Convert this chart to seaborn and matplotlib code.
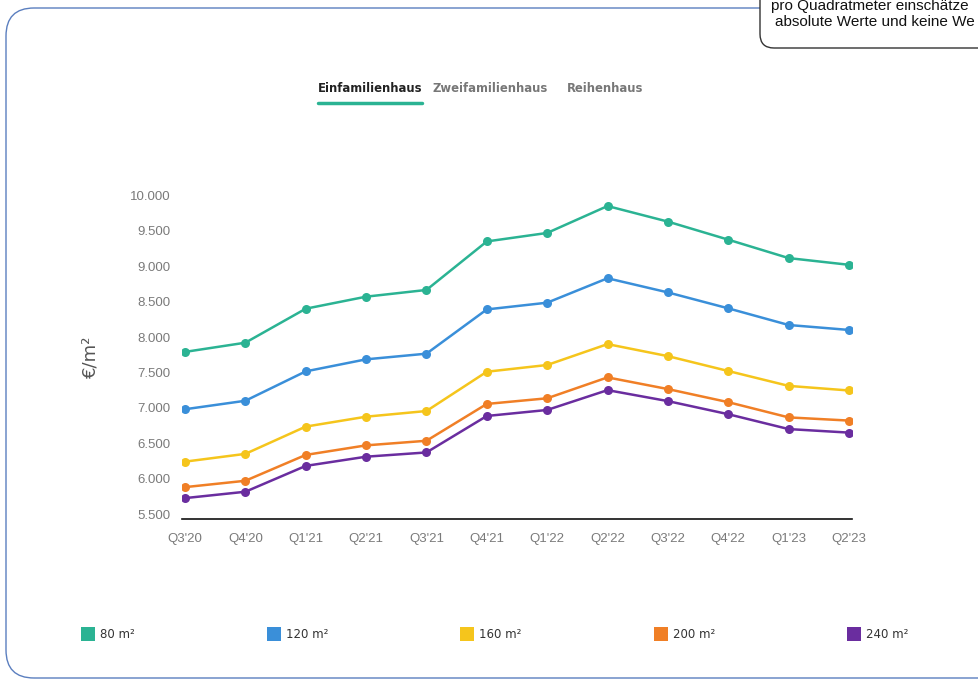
import pandas as pd
import seaborn as sns
import matplotlib.pyplot as plt
from matplotlib.lines import Line2D
from matplotlib.patches import FancyBboxPatch

quartale = ["Q3'20", "Q4'20", "Q1'21", "Q2'21", "Q3'21", "Q4'21",
            "Q1'22", "Q2'22", "Q3'22", "Q4'22", "Q1'23", "Q2'23"]
groessen = ["80 m²", "120 m²", "160 m²", "200 m²", "240 m²"]

preis_80 = [7790, 7920, 8400, 8570, 8665, 9350, 9470, 9850, 9630, 9375, 9115, 9020]
preis_120 = [6980, 7100, 7515, 7685, 7765, 8390, 8485, 8830, 8630, 8405, 8170, 8100]
preis_160 = [6240, 6350, 6735, 6875, 6955, 7510, 7605, 7900, 7730, 7520, 7310, 7245]
preis_200 = [5880, 5970, 6335, 6470, 6535, 7055, 7135, 7430, 7265, 7080, 6865, 6820]
preis_240 = [5725, 5815, 6180, 6310, 6370, 6885, 6970, 7250, 7095, 6910, 6700, 6650]

farben = ["#2bb393", "#3a8fd9", "#f5c51c", "#f07f26", "#6a2d9f"]

y_ticks = [5500, 6000, 6500, 7000, 7500, 8000, 8500, 9000, 9500, 10000]

df = pd.DataFrame({
    "quartal": quartale * 5,
    "groesse": sum([[g] * len(quartale) for g in groessen], []),
    "preis": preis_80 + preis_120 + preis_160 + preis_200 + preis_240,
})

sns.set_style("white")
plt.rcParams["font.family"] = ["DejaVu Sans"]

fig = plt.figure(figsize=(9.79, 6.83), dpi=100)
ax = fig.add_axes([182 / 979, 1 - 519 / 683, 670 / 979, 325 / 683])

sns.lineplot(data=df, x="quartal", y="preis", hue="groesse", hue_order=groessen,
             palette=farben, marker="o", markersize=6.5, markeredgewidth=0,
             linewidth=1.8, legend=False, ax=ax, sort=False)

ax.set_xlim(-0.05, 11.05)
ax.set_ylim(5430, 10020)
ax.set_yticks(y_ticks)
ax.set_yticklabels([f"{v:,}".replace(",", ".") for v in y_ticks],
                   fontfamily="Liberation Sans", fontsize=9.5, color="#7a7a7a")
ax.set_xticks(range(len(quartale)))
ax.set_xticklabels(quartale, fontfamily="Liberation Sans", fontsize=9.5, color="#7a7a7a")
ax.tick_params(axis="both", length=0)
ax.tick_params(axis="y", pad=8)
ax.tick_params(axis="x", pad=10)
ax.set_xlabel("")
ax.set_ylabel("€/m²", fontsize=13, color="#555555", labelpad=22)
for s in ["top", "right", "left"]:
    ax.spines[s].set_visible(False)
ax.spines["bottom"].set_color("#111111")
ax.spines["bottom"].set_linewidth(1.2)

# Reiter oben
fig.text(318 / 979, 1 - 88 / 683, "Einfamilienhaus", fontsize=8.4, fontweight="bold",
         color="#222222", va="center")
fig.text(433 / 979, 1 - 88 / 683, "Zweifamilienhaus", fontsize=8.4, fontweight="bold",
         color="#777777", va="center")
fig.text(567 / 979, 1 - 88 / 683, "Reihenhaus", fontsize=8.4, fontweight="bold",
         color="#777777", va="center")
fig.add_artist(Line2D([318 / 979, 422 / 979], [1 - 103 / 683, 1 - 103 / 683],
                      color="#2bb393", linewidth=2.5))

# Legende unten
handles = [Line2D([], [], marker="s", linestyle="none", markersize=10,
                  markerfacecolor=c, markeredgewidth=0) for c in farben]
fig.legend(handles, groessen, loc="center left", bbox_to_anchor=(82 / 979, 1 - 635 / 683),
           ncol=5, frameon=False, borderpad=0, borderaxespad=0, handlelength=1.0,
           handletextpad=0.5, columnspacing=11.3, prop={"size": 8.5},
           labelcolor="#333333")

# Karte und Hinweisbox
fig.add_artist(FancyBboxPatch((6, 5), 1100, 670, boxstyle="round,pad=0,rounding_size=28",
                              transform=None, facecolor="none", edgecolor="#5b7fbf",
                              linewidth=1.0))
fig.add_artist(FancyBboxPatch((760, 635), 400, 100, boxstyle="round,pad=0,rounding_size=14",
                              transform=None, facecolor="white", edgecolor="#333333",
                              linewidth=1.0))
fig.text(771 / 979, 1 - 6 / 683, "pro Quadratmeter einschätze", fontsize=11,
         fontfamily="Liberation Sans", color="#111111", va="center")
fig.text(775 / 979, 1 - 22 / 683, "absolute Werte und keine We", fontsize=11,
         fontfamily="Liberation Sans", color="#111111", va="center")

fig.savefig("out.png", dpi=100)
